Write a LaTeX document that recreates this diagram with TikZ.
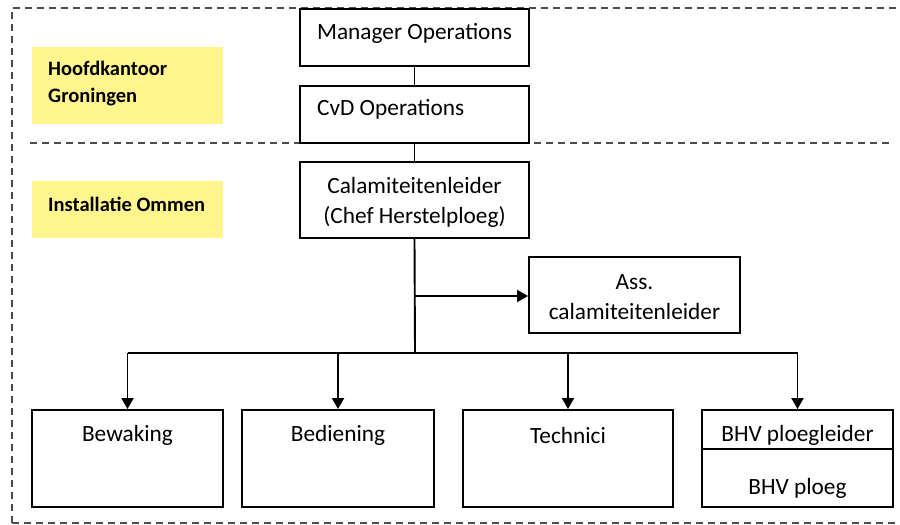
\documentclass[tikz,border=0pt]{standalone}
\usepackage{fontspec}
\setmainfont{Carlito}
\usetikzlibrary{arrows.meta}
\definecolor{hl}{RGB}{255,245,140}
\tikzset{
  box/.style={draw=black, line width=1.9pt, rectangle, inner sep=0pt},
  lbl/.style={font=\fontsize{23.3}{30}\selectfont, inner sep=0pt, align=center},
  ylbl/.style={font=\bfseries\fontsize{20.5}{27}\selectfont, inner sep=0pt, align=left, anchor=west},
  ybox/.style={fill=hl, draw=none, rectangle, inner sep=0pt},
  conn/.style={line width=1.9pt},
  arr/.style={line width=1.9pt, -{Triangle[width=12pt,length=11pt]}},
  dsh/.style={line width=1.2pt, dash pattern=on 7pt off 5pt, draw=black!70}
}
\begin{document}
\begin{tikzpicture}[x=1pt,y=-1pt]
\useasboundingbox (0,0) rectangle (900,525);
% dashed frame
\draw[dsh] (12,523) -- (12,8) -- (898,8);
\draw[dsh] (12,523) -- (898,523);
\draw[dsh] (30,143) -- (893,143);
% yellow labels
\node[ybox, minimum width=191pt, minimum height=77pt] (yb1) at (127.5,85.5) {};
\node[ybox, minimum width=191pt, minimum height=57pt] (yb2) at (127.5,209.5) {};
\node[ylbl] (yt1) at (48,84) {Hoofdkantoor\\Groningen};
\node[ylbl] (yt2) at (48,204) {Installatie Ommen};
% top boxes
\node[box, fill=white, minimum width=229pt, minimum height=57pt] (mgr) at (414.5,37.5) {};
\node[lbl] (mgrt) at (414.5,33) {Manager Operations};
\node[box, fill=white, minimum width=229pt, minimum height=57pt] (cvd) at (414.5,114.5) {};
\node[lbl, anchor=west] (cvdt) at (317,109) {CvD Operations};
\node[box, minimum width=229pt, minimum height=76pt] (cal) at (414.5,200) {};
\node[lbl] (calt) at (414.5,202) {Calamiteitenleider\\(Chef Herstelploeg)};
\node[box, minimum width=211pt, minimum height=76pt] (ass) at (634.5,295) {};
\node[lbl] (asst) at (634.5,297) {Ass.\\calamiteitenleider};
% bottom boxes
\node[box, minimum width=191pt, minimum height=97pt] (bew) at (127.5,458.5) {};
\node[lbl] (bewt) at (127.5,435) {Bewaking};
\node[box, minimum width=192pt, minimum height=97pt] (bed) at (338,458.5) {};
\node[lbl] (bedt) at (338,435) {Bediening};
\node[box, minimum width=210pt, minimum height=97pt] (tec) at (568,458.5) {};
\node[lbl] (tect) at (568,435) {Technici};
\node[box, minimum width=191pt, minimum height=97pt] (bhv) at (797.5,458.5) {};
\node[lbl] (bhvt1) at (797.5,435) {BHV ploegleider};
\node[lbl] (bhvt2) at (797.5,488) {BHV ploeg};
\draw[conn] (bhv.west |- 0,449) -- (bhv.east |- 0,449);
% connectors
\draw[conn] (mgr.south) -- (cvd.north);
\draw[conn] (cvd.south) -- (cal.north);
\coordinate (j1) at (415,296);
\coordinate (j2) at (415,353);
\draw[conn] (cal.south) -- (j2);
\draw[arr] (j1) -- (ass.west |- j1);
\draw[conn] (128,353) -- (798,353);
\draw[arr] (j2 -| bew.north) -- (bew.north);
\draw[arr] (j2 -| bed.north) -- (bed.north);
\draw[arr] (j2 -| tec.north) -- (tec.north);
\draw[arr] (j2 -| bhv.north) -- (bhv.north);
\end{tikzpicture}
\end{document}
